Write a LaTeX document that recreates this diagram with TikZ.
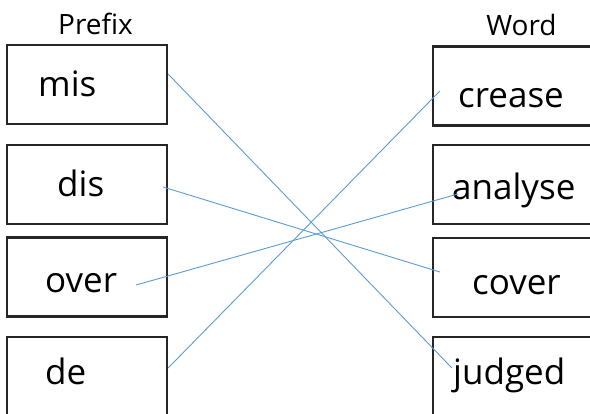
\documentclass[tikz,border=0pt]{standalone}
\usepackage{fontspec}
\setmainfont{Open Sans}
\definecolor{linkblue}{RGB}{91,155,213}
\tikzset{
	box/.style={draw=black!85,line width=2.2pt,minimum width=160pt,minimum height=79pt,inner sep=0pt},
	word/.style={anchor=base west,inner sep=0pt,font=\fontsize{35}{40}\selectfont},
	head/.style={anchor=base,inner sep=0pt,font=\fontsize{28}{32}\selectfont},
	link/.style={draw=linkblue,line width=0.9pt}
}
\begin{document}
\begin{tikzpicture}[x=1pt,y=-1pt]
\useasboundingbox (0,0) rectangle (590,414);
\node[head] (prefix) at (95.5,35) {Prefix};
\node[head] (word) at (521.5,36) {Word};
\foreach \n/\y in {1/84.5,2/184.5,3/277,4/376.5}
	\node[box] (l\n) at (87,\y) {};
\foreach \n/\y in {1/86,2/184.5,3/277.5,4/376.5}
	\node[box] (r\n) at (513,\y) {};
\node[word] (mis) at (38,97) {mis};
\node[word] (dis) at (57,197) {dis};
\node[word] (over) at (45,293) {over};
\node[word] (de) at (45,385) {de};
\node[word] (crease) at (458,108) {crease};
\node[word] (analyse) at (452,200) {analyse};
\node[word] (cover) at (472,295) {cover};
\node[word] (judged) at (453,385) {judged};
\draw[link] ([yshift=10.5pt]l1.east) -- ([xshift=20pt,yshift=8.5pt]r4.west);
\draw[link] ([xshift=-5pt,yshift=-2.5pt]l2.east) -- ([xshift=8pt,yshift=5.5pt]r3.west);
\draw[link] ([xshift=-32pt,yshift=-8pt]l3.east) -- ([xshift=26pt,yshift=-9.5pt]r2.west);
\draw[link] ([yshift=8.5pt]l4.east) -- ([xshift=8pt,yshift=-5pt]r1.west);
\end{tikzpicture}
\end{document}
